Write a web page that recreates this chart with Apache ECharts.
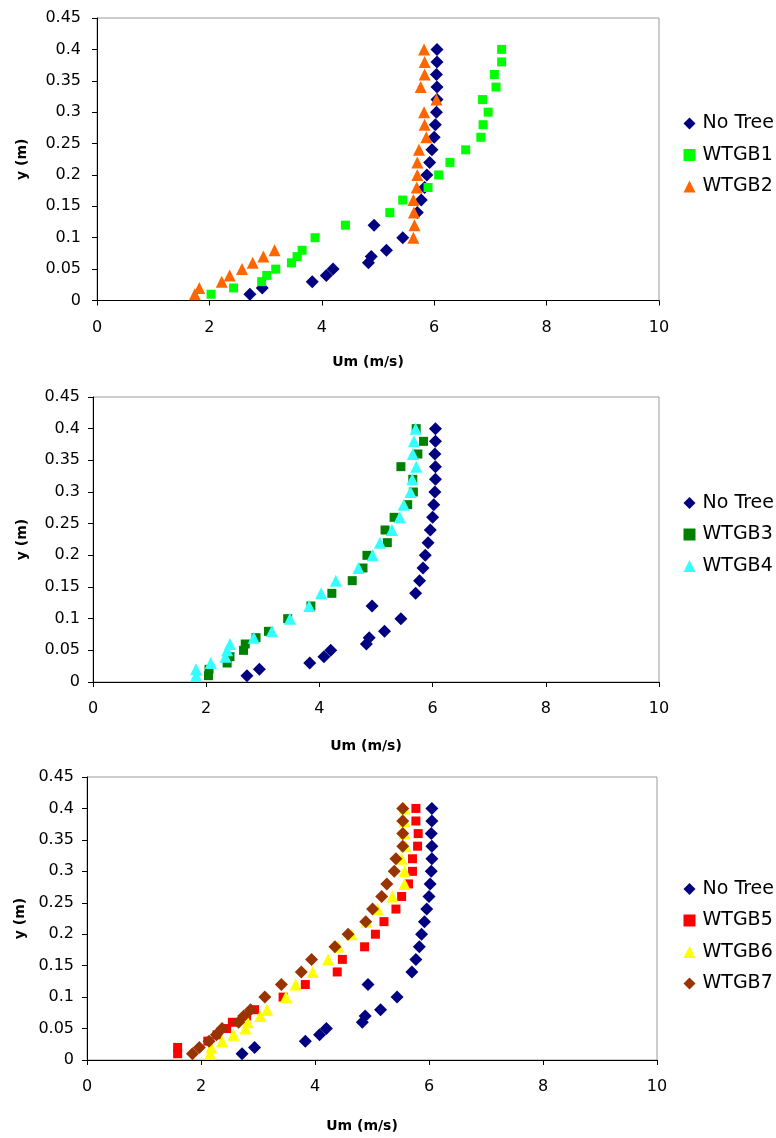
<!DOCTYPE html>
<html>
<head>
<meta charset="utf-8">
<script src="https://cdn.jsdelivr.net/npm/echarts@6/dist/echarts.min.js"></script>
<style>
html,body{margin:0;padding:0;background:#fff;}
#chart{width:776px;height:1138px;}
</style>
</head>
<body>
<div id="chart"></div>
<script>
// Heights (m) shared by every profile
var yLevels = [0.01,0.02,0.03,0.04,0.05,0.06,0.07,0.08,0.10,0.12,0.14,0.16,0.18,0.20,0.22,0.24,0.26,0.28,0.30,0.32,0.34,0.36,0.38,0.40];
// Um (m/s) per series, same order as yLevels
var noTree = [2.72,2.94,3.83,4.08,4.20,4.83,4.88,5.15,5.44,4.93,5.70,5.77,5.83,5.87,5.92,5.96,6.00,6.02,6.04,6.05,6.05,6.04,6.05,6.05];
var wtgb1  = [2.03,2.43,2.93,3.02,3.18,3.46,3.56,3.65,3.88,4.42,5.21,5.44,5.89,6.08,6.28,6.56,6.83,6.87,6.96,6.86,7.10,7.07,7.20,7.20];
var wtgb2  = [1.74,1.82,2.22,2.36,2.58,2.77,2.96,3.16,5.63,5.65,5.64,5.63,5.69,5.70,5.70,5.73,5.86,5.83,5.82,6.04,5.76,5.83,5.83,5.82];
var wtgb3  = [2.04,2.05,2.37,2.42,2.66,2.69,2.88,3.10,3.44,3.85,4.22,4.58,4.77,4.84,5.20,5.16,5.32,5.56,5.66,5.65,5.44,5.74,5.84,5.71];
var wtgb4  = [1.82,1.82,2.08,2.34,2.37,2.42,2.84,3.16,3.48,3.82,4.03,4.29,4.69,4.94,5.07,5.28,5.42,5.49,5.61,5.64,5.71,5.65,5.67,5.70];
var wtgb5  = [1.59,1.59,2.12,2.28,2.45,2.55,2.80,2.94,3.44,3.83,4.39,4.48,4.87,5.06,5.21,5.42,5.52,5.64,5.71,5.71,5.80,5.81,5.77,5.77];
var wtgb6  = [2.16,2.18,2.37,2.57,2.78,2.82,3.04,3.16,3.49,3.66,3.96,4.23,4.41,4.64,4.90,5.10,5.36,5.57,5.57,5.52,5.59,5.57,5.57,5.57];
var wtgb7  = [1.85,1.97,2.14,2.27,2.37,2.66,2.75,2.87,3.12,3.41,3.76,3.94,4.35,4.58,4.89,5.01,5.17,5.26,5.39,5.42,5.54,5.54,5.54,5.54];

var panelSeries = [
  ['No Tree','WTGB1','WTGB2'],
  ['No Tree','WTGB3','WTGB4'],
  ['No Tree','WTGB5','WTGB6','WTGB7']
];
var xTitle = 'Um (m/s)';
var yTitle = 'y (m)';

var seriesData = {'No Tree':noTree,'WTGB1':wtgb1,'WTGB2':wtgb2,'WTGB3':wtgb3,'WTGB4':wtgb4,'WTGB5':wtgb5,'WTGB6':wtgb6,'WTGB7':wtgb7};
var styles = {
  'No Tree':{symbol:'diamond',size:13,color:'#000080'},
  'WTGB1':{symbol:'rect',size:9,color:'#00ff00'},
  'WTGB2':{symbol:'triangle',size:12,color:'#ff6600'},
  'WTGB3':{symbol:'rect',size:9,color:'#008000'},
  'WTGB4':{symbol:'triangle',size:12,color:'#33ffff'},
  'WTGB5':{symbol:'rect',size:9,color:'#ff0000'},
  'WTGB6':{symbol:'triangle',size:12,color:'#ffff00'},
  'WTGB7':{symbol:'diamond',size:13,color:'#993300'}
};

var FONT = 'DejaVu Sans';
var grids = [
  {left:97, top:18, width:562, height:282.5},
  {left:93, top:397, width:566, height:285},
  {left:87, top:777, width:570, height:283}
];
var yLabelMargin = [16,13,13];
var yNameGap = [68,64,58];
var xNameGap = [55,57,59];
var legendTops = [108.5,488,874];

var option = {
  backgroundColor:'#fff',
  animation:false,
  grid: grids.map(function(g){return Object.assign({show:true,borderColor:'#9a9a9a',borderWidth:1,backgroundColor:'#fff'},g);}),
  xAxis: grids.map(function(g,i){return {
    type:'value', gridIndex:i, min:0, max:10, interval:2,
    name:xTitle, nameLocation:'middle', nameGap:xNameGap[i],
    nameTextStyle:{fontFamily:FONT,fontSize:14,fontWeight:'bold',color:'#000',padding:[0,20,0,0]},
    axisLine:{show:true,onZero:false,lineStyle:{color:'#000',width:1}},
    axisTick:{show:true,length:5,lineStyle:{color:'#000'}},
    axisLabel:{fontFamily:FONT,fontSize:16,color:'#000',margin:19},
    splitLine:{show:false}
  };}),
  yAxis: grids.map(function(g,i){return {
    type:'value', gridIndex:i, min:0, max:0.45, interval:0.05,
    name:yTitle, nameLocation:'middle', nameGap:yNameGap[i], nameRotate:90,
    nameTextStyle:{fontFamily:FONT,fontSize:14,fontWeight:'bold',color:'#000'},
    axisLine:{show:true,onZero:false,lineStyle:{color:'#000',width:1}},
    axisTick:{show:true,length:5,lineStyle:{color:'#000'}},
    axisLabel:{fontFamily:FONT,fontSize:16,color:'#000',margin:yLabelMargin[i]},
    splitLine:{show:false}
  };}),
  legend: panelSeries.map(function(names,i){return {
    data:names, orient:'vertical', left:678.5, top:legendTops[i],
    itemWidth:12, itemHeight:12, itemGap:11.5,
    selectedMode:false,
    textStyle:{fontFamily:FONT,fontSize:19,color:'#000',lineHeight:20,padding:[0,0,0,2]}
  };}),
  series: []
};

panelSeries.forEach(function(names,i){
  names.forEach(function(n){
    var st = styles[n];
    var vals = seriesData[n];
    option.series.push({
      type:'scatter', name:n, xAxisIndex:i, yAxisIndex:i,
      symbol:st.symbol, symbolSize:st.size,
      itemStyle:{color:st.color,opacity:1},
      data: vals.map(function(v,k){return [v,yLevels[k]];})
    });
  });
});

var chart = echarts.init(document.getElementById('chart'),null,{renderer:'canvas'});
chart.setOption(option);
</script>
</body>
</html>
